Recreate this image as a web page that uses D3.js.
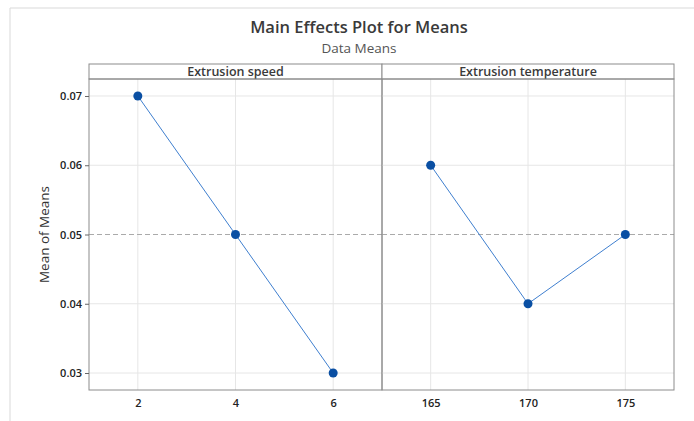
<!DOCTYPE html>
<html>
<head>
<meta charset="utf-8">
<script src="https://cdn.jsdelivr.net/npm/d3@7"></script>
<style>
  body { margin: 0; background: #fff; }
  svg { font-family: "Open Sans", "Noto Sans", sans-serif; }
</style>
</head>
<body>
<div class="chart"></div>
<script>
// factor levels and means
const factors = ["Extrusion speed", "Extrusion temperature"];
const speedLevels = [2, 4, 6];
const speedMeans = [0.07, 0.05, 0.03];
const tempLevels = [165, 170, 175];
const tempMeans = [0.06, 0.04, 0.05];
const yTicks = [0.03, 0.04, 0.05, 0.06, 0.07];
const grandMean = 0.05;

const width = 694, height = 421;
const svg = d3.select('.chart').append('svg')
    .attr('width', width)
    .attr('height', height);

// outer frame (partial, as in the screenshot)
svg.append('path')
    .attr('d', `M10,${height} L10,8 L${width},8`)
    .attr('fill', 'none')
    .attr('stroke', '#d9d9d9')
    .attr('stroke-width', 1);

// titles
svg.append('text')
    .attr('x', 359).attr('y', 33)
    .attr('text-anchor', 'middle')
    .attr('font-size', '16.5px')
    .attr('font-weight', 600)
    .attr('fill', '#3a3a3a')
    .text('Main Effects Plot for Means');
svg.append('text')
    .attr('x', 359).attr('y', 53)
    .attr('text-anchor', 'middle')
    .attr('font-size', '13.5px')
    .attr('fill', '#555')
    .text('Data Means');

const stripTop = 64, stripH = 15, plotTop = stripTop + stripH, plotBottom = 390;
const left = 89, mid = 382, right = 674;

const y = d3.scaleLinear()
    .domain([0.03 - (plotBottom - 373) / 6930, 0.07 + (96 - plotTop) / 6930])
    .range([plotBottom, plotTop]);

const panels = [
  {name: factors[0], levels: speedLevels, means: speedMeans,
   x: d3.scaleLinear().domain([1, 7]).range([left, mid])},
  {name: factors[1], levels: tempLevels, means: tempMeans,
   x: d3.scaleLinear().domain([162.5, 177.5]).range([mid, right])}
];

panels.forEach((p, i) => {
  const g = svg.append('g');
  const x0 = p.x.range()[0], x1 = p.x.range()[1];

  // grid
  g.selectAll('.vgrid').data(p.levels).enter().append('line')
      .attr('x1', d => p.x(d)).attr('x2', d => p.x(d))
      .attr('y1', plotTop).attr('y2', plotBottom)
      .attr('stroke', '#e6e6e6');
  g.selectAll('.hgrid').data(yTicks.filter(t => t !== grandMean)).enter().append('line')
      .attr('x1', x0).attr('x2', x1)
      .attr('y1', d => y(d)).attr('y2', d => y(d))
      .attr('stroke', '#e6e6e6');

  // reference line at grand mean
  g.append('line')
      .attr('x1', x0).attr('x2', x1)
      .attr('y1', y(grandMean)).attr('y2', y(grandMean))
      .attr('stroke', '#aaaaaa')
      .attr('stroke-dasharray', '5,3');

  // strip header
  g.append('rect')
      .attr('x', x0).attr('y', stripTop)
      .attr('width', x1 - x0).attr('height', stripH)
      .attr('fill', '#fff')
      .attr('stroke', '#8c8c8c');
  g.append('text')
      .attr('x', (x0 + x1) / 2).attr('y', stripTop + 12)
      .attr('text-anchor', 'middle')
      .attr('font-size', '12.5px')
      .attr('font-weight', 600)
      .attr('fill', '#3a3a3a')
      .text(p.name);

  // panel border
  g.append('rect')
      .attr('x', x0).attr('y', plotTop)
      .attr('width', x1 - x0).attr('height', plotBottom - plotTop)
      .attr('fill', 'none')
      .attr('stroke', '#8c8c8c');

  // x axis
  const xAxis = g.append('g')
      .attr('transform', `translate(0,${plotBottom})`)
      .call(d3.axisBottom(p.x).tickValues(p.levels).tickFormat(d3.format('d')).tickSize(0).tickPadding(9));
  xAxis.select('.domain').remove();
  xAxis.selectAll('text')
      .attr('font-family', '"Open Sans", "Noto Sans", sans-serif')
      .attr('font-size', '11px')
      .attr('font-weight', 600)
      .attr('fill', '#222');

  // line and points
  const pts = p.levels.map((l, k) => ({l: l, m: p.means[k]}));
  g.append('path')
      .datum(pts)
      .attr('fill', 'none')
      .attr('stroke', '#3f7fcf')
      .attr('stroke-width', 1)
      .attr('d', d3.line().x(d => p.x(d.l)).y(d => y(d.m)));
  g.selectAll('.pt').data(pts).enter().append('circle')
      .attr('cx', d => p.x(d.l))
      .attr('cy', d => y(d.m))
      .attr('r', 4.5)
      .attr('fill', '#0a4fa3');
});

// y axis
const yAxis = svg.append('g')
    .attr('transform', `translate(${left},0)`)
    .call(d3.axisLeft(y).tickValues(yTicks).tickFormat(d3.format('.2f')).tickSize(4).tickPadding(3));
yAxis.select('.domain').remove();
yAxis.selectAll('line').attr('stroke', '#666');
yAxis.selectAll('text')
    .attr('font-family', '"Open Sans", "Noto Sans", sans-serif')
    .attr('font-size', '11px')
    .attr('font-weight', 600)
    .attr('fill', '#222');

svg.append('text')
    .attr('transform', `translate(49,${y(grandMean)}) rotate(-90)`)
    .attr('text-anchor', 'middle')
    .attr('font-size', '13.5px')
    .attr('fill', '#333')
    .text('Mean of Means');
</script>
</body>
</html>
